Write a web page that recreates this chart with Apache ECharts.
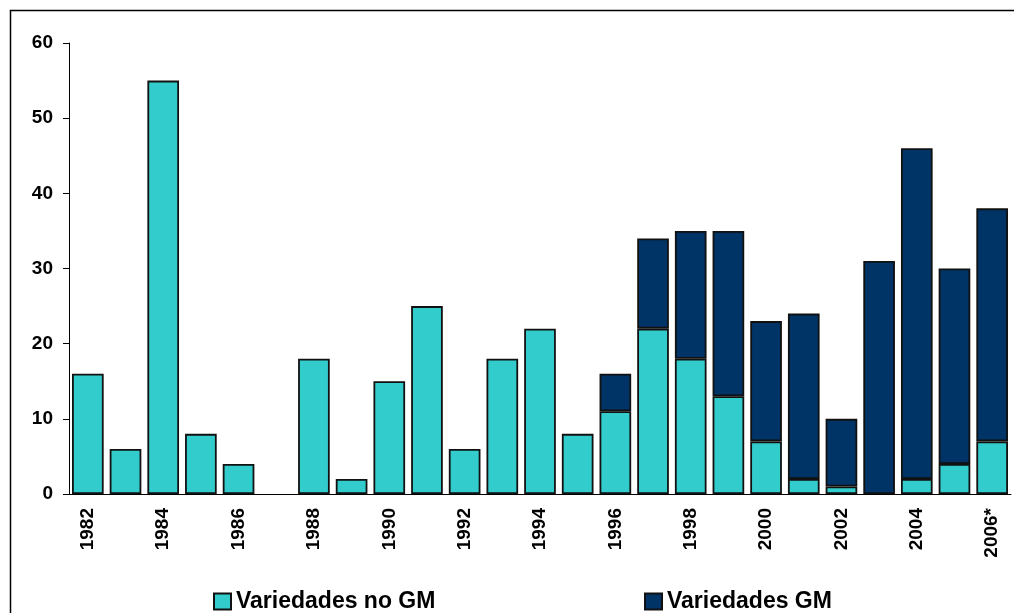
<!DOCTYPE html>
<html>
	<head>
		<meta charset="UTF-8">
		<title>Variedades GM</title>
		<style>
			html,body{margin:0;padding:0;background:#fff;}
		</style>
	</head>
	<body>
		<div id="main" style="width:1014px;height:613px;"></div>
	<script type="text/javascript" src="https://cdn.jsdelivr.net/npm/echarts@6/dist/echarts.min.js"></script>
	<script>
	var years=['1982','1983','1984','1985','1986','1987','1988','1989','1990','1991','1992','1993','1994',
		'1995','1996','1997','1998','1999','2000','2001','2002','2003','2004','2005','2006*'];
	var noGM=[16,6,55,8,4,0,18,2,15,25,6,18,22,8,11,22,18,13,7,2,1,0,2,4,7];
	var gm=[0,0,0,0,0,0,0,0,0,0,0,0,0,0,5,12,17,22,16,22,9,31,44,26,31];

	function empty(arr){
		return arr.map(function(v){return v===0?'-':v;});
	}

	var font='"Liberation Sans", Arial, sans-serif';
	var chart=echarts.init(document.getElementById('main'));
	var legendText={fontFamily:font,fontWeight:'bold',fontSize:23,color:'#000'};
	var option={
		animation:false,
		grid:{left:69,right:3,top:43,bottom:119},
		graphic:[{
			type:'rect',
			shape:{x:10.5,y:10.5,width:1100,height:700},
			style:{fill:'none',stroke:'#000',lineWidth:1.5},
			silent:true
		}],
		legend:[{
			left:213,top:590,padding:0,
			itemWidth:17,itemHeight:16,
			icon:'rect',
			data:['Variedades no GM'],
			textStyle:legendText
		},{
			left:644,top:590,padding:0,
			itemWidth:17,itemHeight:16,
			icon:'rect',
			data:['Variedades GM'],
			textStyle:legendText
		}],
		xAxis:{
			type:'category',
			data:years,
			axisLine:{lineStyle:{color:'#000',width:1}},
			axisTick:{interval:0,length:6,lineStyle:{color:'#000'}},
			axisLabel:{
				interval:1,rotate:90,margin:14,
				fontFamily:font,fontWeight:'bold',fontSize:19,color:'#000'
			}
		},
		yAxis:{
			type:'value',
			min:0,max:60,interval:10,
			splitLine:{show:false},
			axisLine:{show:true,lineStyle:{color:'#000',width:1}},
			axisTick:{show:true,length:6,lineStyle:{color:'#000'}},
			axisLabel:{margin:16,fontFamily:font,fontWeight:'bold',fontSize:19,color:'#000'}
		},
		series:[{
			name:'Variedades no GM',
			type:'bar',
			stack:'total',
			barCategoryGap:'16%',
			data:empty(noGM),
			itemStyle:{color:'#33CCCC',borderColor:'#111',borderWidth:1.8}
		},{
			name:'Variedades GM',
			type:'bar',
			stack:'total',
			barCategoryGap:'16%',
			data:empty(gm),
			itemStyle:{color:'#003366',borderColor:'#111',borderWidth:1.8}
		}]
	};
	chart.setOption(option);
	</script>
	</body>
</html>
